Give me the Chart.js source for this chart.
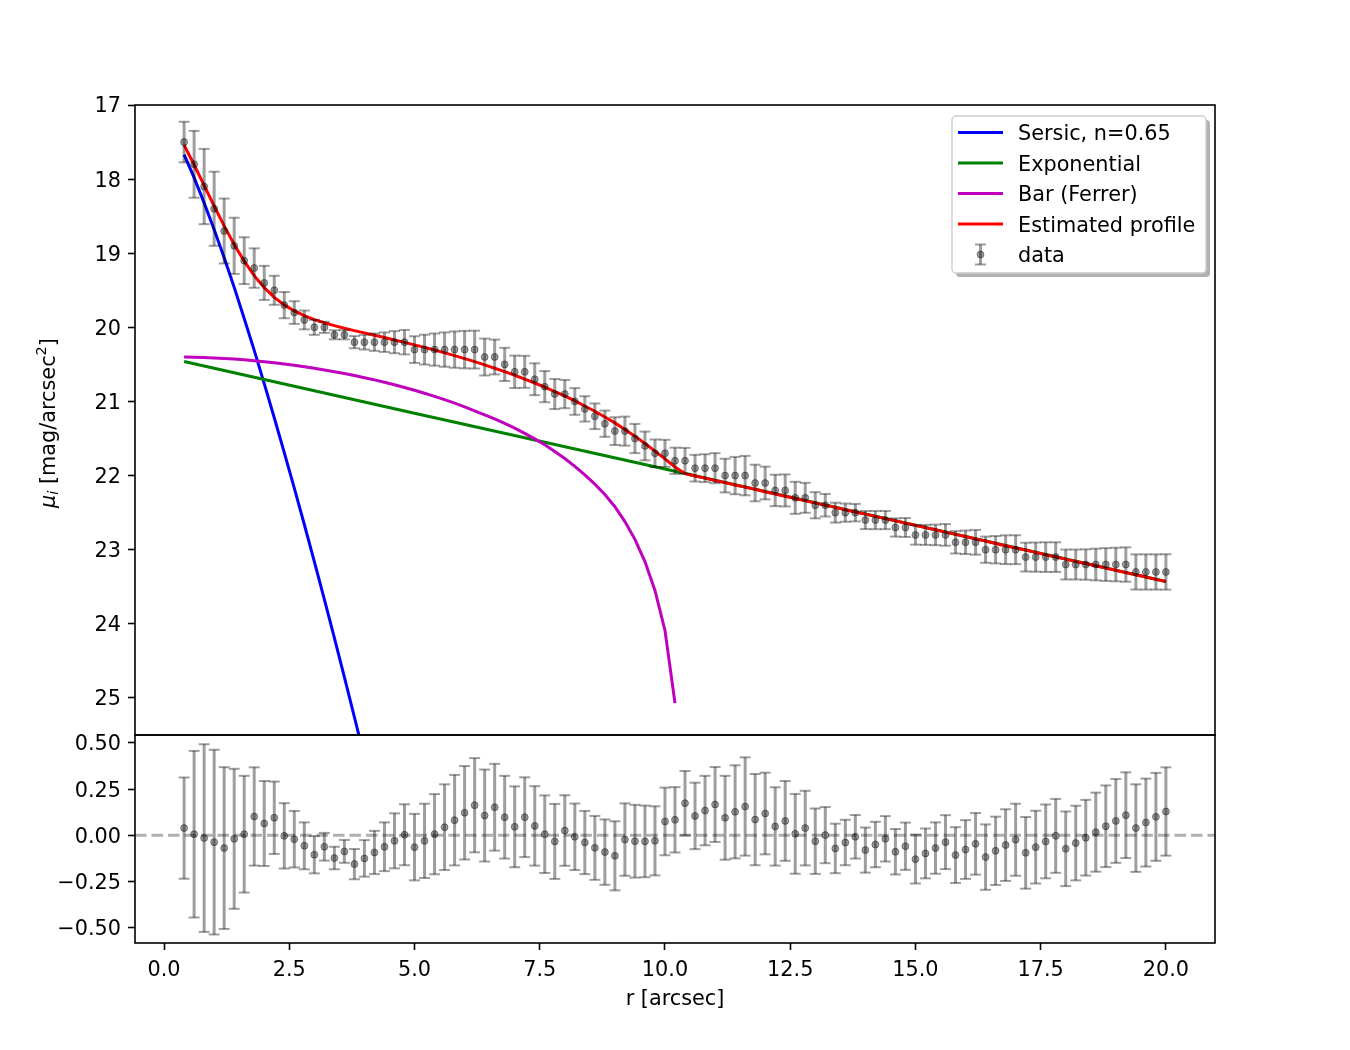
<!DOCTYPE html>
<html>
<head>
<meta charset="utf-8">
<script src="https://cdn.jsdelivr.net/npm/chart.js@4.4.1/dist/chart.umd.min.js"></script>
<style>
html,body{margin:0;padding:0;background:#fff;}
#wrap{position:relative;width:1350px;height:1050px;overflow:hidden;background:#fff;}
canvas{position:absolute;left:0;}
#topChart{top:0;}
#botChart{top:730px;}
</style>
</head>
<body>
<div id="wrap">
<canvas id="topChart" width="1350" height="740"></canvas>
<canvas id="botChart" width="1350" height="320"></canvas>
</div>
<script>
// ---------------- data ----------------
const radius = [
  0.4,0.6,0.8,1.0,1.2,1.4,1.6,1.8,2.0,2.2,
  2.4,2.6,2.8,3.0,3.2,3.4,3.6,3.8,4.0,4.2,
  4.4,4.6,4.8,5.0,5.2,5.4,5.6,5.8,6.0,6.2,
  6.4,6.6,6.8,7.0,7.2,7.4,7.6,7.8,8.0,8.2,
  8.4,8.6,8.8,9.0,9.2,9.4,9.6,9.8,10.0,10.2,
  10.4,10.6,10.8,11.0,11.2,11.4,11.6,11.8,12.0,12.2,
  12.4,12.6,12.8,13.0,13.2,13.4,13.6,13.8,14.0,14.2,
  14.4,14.6,14.8,15.0,15.2,15.4,15.6,15.8,16.0,16.2,
  16.4,16.6,16.8,17.0,17.2,17.4,17.6,17.8,18.0,18.2,
  18.4,18.6,18.8,19.0,19.2,19.4,19.6,19.8,20.0
];
const surfaceBrightness = [
  17.5,17.8,18.1,18.4,18.7,18.9,19.1,19.2,19.4,19.5,
  19.7,19.8,19.9,20.0,20.0,20.1,20.1,20.2,20.2,20.2,
  20.2,20.2,20.2,20.3,20.3,20.3,20.3,20.3,20.3,20.3,
  20.4,20.4,20.5,20.6,20.6,20.7,20.8,20.9,20.9,21.0,
  21.1,21.2,21.3,21.4,21.4,21.5,21.6,21.7,21.7,21.8,
  21.8,21.9,21.9,21.9,22.0,22.0,22.0,22.1,22.1,22.2,
  22.2,22.3,22.3,22.4,22.4,22.5,22.5,22.5,22.6,22.6,
  22.6,22.7,22.7,22.8,22.8,22.8,22.8,22.9,22.9,22.9,
  23.0,23.0,23.0,23.0,23.1,23.1,23.1,23.1,23.2,23.2,
  23.2,23.2,23.2,23.2,23.2,23.3,23.3,23.3,23.3
];
const errors = [
  0.274,0.451,0.508,0.500,0.438,0.379,0.316,0.266,0.230,0.196,
  0.177,0.153,0.127,0.101,0.075,0.061,0.062,0.082,0.099,0.117,
  0.132,0.149,0.165,0.180,0.201,0.217,0.232,0.245,0.253,0.255,
  0.249,0.235,0.224,0.219,0.216,0.215,0.210,0.203,0.191,0.180,
  0.171,0.173,0.177,0.187,0.196,0.197,0.194,0.187,0.183,0.177,
  0.174,0.180,0.188,0.203,0.227,0.252,0.266,0.247,0.221,0.212,
  0.216,0.216,0.202,0.177,0.152,0.134,0.123,0.118,0.122,0.123,
  0.123,0.123,0.128,0.132,0.135,0.139,0.146,0.151,0.159,0.167,
  0.177,0.185,0.194,0.195,0.194,0.197,0.200,0.200,0.202,0.202,
  0.205,0.214,0.221,0.227,0.232,0.237,0.238,0.238,0.239
];
const residuals = [
  0.039,0.006,-0.015,-0.037,-0.069,-0.019,0.006,0.102,0.064,0.095,
  -0.003,-0.021,-0.057,-0.105,-0.062,-0.123,-0.087,-0.156,-0.125,-0.093,
  -0.062,-0.030,0.003,-0.064,-0.030,0.006,0.044,0.082,0.122,0.163,
  0.107,0.152,0.098,0.046,0.098,0.051,0.006,-0.033,0.026,-0.008,
  -0.039,-0.068,-0.091,-0.111,-0.023,-0.032,-0.033,-0.030,0.075,0.084,
  0.174,0.105,0.134,0.167,0.095,0.127,0.156,0.085,0.118,0.048,
  0.078,0.008,0.039,-0.032,0.001,-0.071,-0.039,-0.008,-0.080,-0.050,
  -0.019,-0.089,-0.059,-0.129,-0.098,-0.069,-0.037,-0.107,-0.077,-0.046,
  -0.118,-0.084,-0.053,-0.024,-0.095,-0.064,-0.033,-0.003,-0.073,-0.042,
  -0.013,0.017,0.049,0.078,0.109,0.039,0.069,0.100,0.129
];
const estimatedProfile = [
  17.539,17.806,18.085,18.363,18.631,18.881,19.106,19.302,19.464,19.595,
  19.697,19.779,19.843,19.895,19.938,19.977,20.013,20.044,20.075,20.107,
  20.138,20.170,20.203,20.236,20.270,20.306,20.344,20.382,20.422,20.463,
  20.507,20.552,20.598,20.646,20.698,20.751,20.806,20.867,20.926,20.992,
  21.061,21.132,21.209,21.289,21.377,21.468,21.567,21.670,21.775,21.884,
  21.974,22.005,22.034,22.067,22.095,22.127,22.156,22.185,22.218,22.248,
  22.278,22.308,22.339,22.368,22.401,22.429,22.461,22.492,22.520,22.550,
  22.581,22.611,22.641,22.671,22.702,22.731,22.763,22.793,22.823,22.854,
  22.882,22.916,22.947,22.976,23.005,23.036,23.067,23.097,23.127,23.158,
  23.187,23.217,23.249,23.278,23.309,23.339,23.369,23.400,23.429
];
const sersicRadius = [0.4,0.6,0.8,1.0,1.2,1.4,1.6,1.8,2.0,2.2,2.4,2.6,2.8,3.0,3.2,3.4,3.6,3.8,4.0];
const sersicMu = [17.67,17.98,18.32,18.68,19.06,19.46,19.88,20.31,20.76,21.22,21.69,22.17,22.66,23.16,23.67,24.19,24.72,25.26,25.80];
const expRadius = [0.4,5.0,10.0,15.0,20.0];
const expMu = [20.46,21.16,21.91,22.67,23.43];
const barRadius = [
  0.4,0.6,0.8,1.0,1.2,1.4,1.6,1.8,2.0,2.2,
  2.4,2.6,2.8,3.0,3.2,3.4,3.6,3.8,4.0,4.2,
  4.4,4.6,4.8,5.0,5.2,5.4,5.6,5.8,6.0,6.2,
  6.4,6.6,6.8,7.0,7.2,7.4,7.6,7.8,8.0,8.2,
  8.4,8.6,8.8,9.0,9.2,9.4,9.6,9.8,10.0,10.2
];
const barMu = [
  20.400,20.402,20.406,20.412,20.419,20.428,20.438,20.450,20.463,20.478,
  20.494,20.512,20.531,20.552,20.574,20.598,20.623,20.650,20.679,20.709,
  20.741,20.775,20.811,20.849,20.889,20.931,20.976,21.023,21.073,21.126,
  21.180,21.235,21.295,21.360,21.430,21.505,21.585,21.675,21.770,21.875,
  21.990,22.115,22.255,22.420,22.620,22.860,23.160,23.550,24.090,25.070
];
const muTicks = [17,18,19,20,21,22,23,24,25];
const muTickLabels = ['17','18','19','20','21','22','23','24','25'];
const resTicks = [-0.5,-0.25,0,0.25,0.5];
const resTickLabels = ['\u22120.50','\u22120.25','0.00','0.25','0.50'];
const rTicks = [0,2.5,5,7.5,10,12.5,15,17.5,20];
const rTickLabels = ['0.0','2.5','5.0','7.5','10.0','12.5','15.0','17.5','20.0'];
const seriesLabels = ['Sersic, n=0.65','Exponential','Bar (Ferrer)','Estimated profile','data'];

// ---------------- configuration ----------------
const FONT = '"DejaVu Sans"';
const FS = 20.8;
Chart.defaults.font.family = FONT;
Chart.defaults.font.size = FS;
Chart.defaults.color = '#000';

const X_MIN = -0.58, X_MAX = 20.98;
const MU_MIN = 17, MU_MAX = 25.5;
const RES_MIN = -0.583, RES_MAX = 0.543;
const ERR_COLOR = 'rgba(0,0,0,0.38)';
const COLORS = {sersic:'#0000ff', exp:'#008000', bar:'#bf00bf', model:'#ff0000'};

const pts = (xs, ys) => xs.map((x, i) => ({x: x, y: ys[i]}));

const errorBarPlugin = {
  id: 'errorBars',
  beforeDatasetDraw(chart, args) {
    const ds = chart.data.datasets[args.index];
    if (!ds.errorBars) return;
    const xs = chart.scales.x, ys = chart.scales.y, ctx = chart.ctx, a = chart.chartArea;
    ctx.save();
    ctx.beginPath(); ctx.rect(a.left, a.top, a.right - a.left, a.bottom - a.top); ctx.clip();
    ctx.strokeStyle = ds.errorBarColor;
    ds.data.forEach((p, i) => {
      const e = ds.errorBars[i];
      const px = xs.getPixelForValue(p.x);
      const y1 = ys.getPixelForValue(p.y - e), y2 = ys.getPixelForValue(p.y + e);
      ctx.lineWidth = 3;
      ctx.beginPath(); ctx.moveTo(px, y1); ctx.lineTo(px, y2); ctx.stroke();
      ctx.lineWidth = 2;
      ctx.beginPath(); ctx.moveTo(px - 5.5, y1); ctx.lineTo(px + 5.5, y1); ctx.stroke();
      ctx.beginPath(); ctx.moveTo(px - 5.5, y2); ctx.lineTo(px + 5.5, y2); ctx.stroke();
    });
    ctx.restore();
  }
};

function drawRich(ctx, parts, cx, cy, rot, base) {
  ctx.save();
  ctx.translate(cx, cy); ctx.rotate(rot);
  let total = 0;
  parts.forEach(p => { ctx.font = p.font; p.w = ctx.measureText(p.t).width; total += p.w; });
  let x = -total / 2;
  ctx.fillStyle = '#000'; ctx.textBaseline = 'alphabetic'; ctx.textAlign = 'left';
  parts.forEach(p => { ctx.font = p.font; ctx.fillText(p.t, x, base + (p.dy || 0)); x += p.w; });
  ctx.restore();
}

function roundRectPath(ctx, x, y, w, h, r) {
  ctx.beginPath();
  ctx.moveTo(x + r, y); ctx.lineTo(x + w - r, y); ctx.arcTo(x + w, y, x + w, y + r, r);
  ctx.lineTo(x + w, y + h - r); ctx.arcTo(x + w, y + h, x + w - r, y + h, r);
  ctx.lineTo(x + r, y + h); ctx.arcTo(x, y + h, x, y + h - r, r);
  ctx.lineTo(x, y + r); ctx.arcTo(x, y, x + r, y, r); ctx.closePath();
}

const decorPlugin = {
  id: 'decor',
  beforeDatasetsDraw(chart, args, opts) {
    if (!opts.zeroLine) return;
    const ctx = chart.ctx, a = chart.chartArea, y = chart.scales.y.getPixelForValue(0);
    ctx.save();
    ctx.strokeStyle = 'rgba(128,128,128,0.62)'; ctx.lineWidth = 3; ctx.setLineDash([11.5, 5]);
    ctx.beginPath(); ctx.moveTo(a.left, y); ctx.lineTo(a.right, y); ctx.stroke();
    ctx.restore();
  },
  afterDraw(chart, args, opts) {
    const ctx = chart.ctx, a = chart.chartArea;
    ctx.save();
    ctx.strokeStyle = '#000'; ctx.lineWidth = 1.6;
    ctx.strokeRect(a.left, a.top, a.right - a.left, a.bottom - a.top);
    ctx.restore();
    if (opts.yTitle) {
      const t = opts.yTitle;
      drawRich(ctx, t.parts, t.cx, t.cy, -Math.PI / 2, t.base);
    }
    if (opts.legend) {
      const L = opts.legend;
      ctx.save();
      ctx.fillStyle = 'rgba(0,0,0,0.3)';
      roundRectPath(ctx, L.x + 4, L.y + 4, L.w, L.h, 4); ctx.fill();
      ctx.fillStyle = '#fff';
      roundRectPath(ctx, L.x, L.y, L.w, L.h, 4); ctx.fill();
      ctx.strokeStyle = '#cccccc'; ctx.lineWidth = 1.3; ctx.stroke();
      L.items.forEach((it, k) => {
        const ry = L.rowY + k * L.rowStep;
        if (it.kind === 'line') {
          ctx.strokeStyle = it.color; ctx.lineWidth = 3; ctx.setLineDash([]);
          ctx.beginPath(); ctx.moveTo(L.hx0, ry); ctx.lineTo(L.hx1, ry); ctx.stroke();
        } else {
          const cx = (L.hx0 + L.hx1) / 2;
          ctx.strokeStyle = ERR_COLOR;
          ctx.lineWidth = 3;
          ctx.beginPath(); ctx.moveTo(cx, ry - 10); ctx.lineTo(cx, ry + 10); ctx.stroke();
          ctx.lineWidth = 2;
          ctx.beginPath(); ctx.moveTo(cx - 5.5, ry - 10); ctx.lineTo(cx + 5.5, ry - 10); ctx.stroke();
          ctx.beginPath(); ctx.moveTo(cx - 5.5, ry + 10); ctx.lineTo(cx + 5.5, ry + 10); ctx.stroke();
          ctx.fillStyle = ERR_COLOR; ctx.lineWidth = 1;
          ctx.beginPath(); ctx.arc(cx, ry, 3.5, 0, Math.PI * 2); ctx.fill(); ctx.stroke();
        }
        ctx.fillStyle = '#000'; ctx.font = FS + 'px ' + FONT;
        ctx.textAlign = 'left'; ctx.textBaseline = 'alphabetic';
        ctx.fillText(it.label, L.tx, ry + 7.7);
      });
      ctx.restore();
    }
  }
};

const fontN = FS + 'px ' + FONT;
const fontI = 'italic ' + FS + 'px ' + FONT;
const fontSI = 'italic ' + (FS * 0.7).toFixed(2) + 'px ' + FONT;
const fontS = (FS * 0.7).toFixed(2) + 'px ' + FONT;

function yAxis(min, max, reverse, ticks, labels) {
  return {
    type: 'linear', min: min, max: max, reverse: reverse,
    afterFit(s) { s.width = 135; s.paddingTop = 0; s.paddingBottom = 0; },
    afterBuildTicks(s) { s.ticks = ticks.map(v => ({value: v})); },
    ticks: { callback: (v, i) => labels[i], padding: 7, labelOffset: 2, autoSkip: false, color: '#000', font: {size: FS} },
    grid: { drawOnChartArea: false, drawTicks: true, tickLength: 7, tickColor: '#000', tickWidth: 1.6 },
    border: { display: false }
  };
}

const lineDs = (label, xs, ys, color, order) => ({
  label: label, data: pts(xs, ys), showLine: true, borderColor: color, backgroundColor: color,
  borderWidth: 3, pointRadius: 0, pointHoverRadius: 0, tension: 0, fill: false, order: order
});

// ---------------- top panel ----------------
new Chart(document.getElementById('topChart'), {
  type: 'scatter',
  data: {
    datasets: [
      { label: seriesLabels[4], data: pts(radius, surfaceBrightness), errorBars: errors, errorBarColor: ERR_COLOR,
        showLine: false, pointRadius: 3.5, pointBorderWidth: 1, pointBackgroundColor: ERR_COLOR, pointBorderColor: ERR_COLOR, order: 0 },
      lineDs(seriesLabels[3], radius, estimatedProfile, COLORS.model, 1),
      lineDs(seriesLabels[2], barRadius, barMu, COLORS.bar, 2),
      lineDs(seriesLabels[1], expRadius, expMu, COLORS.exp, 3),
      lineDs(seriesLabels[0], sersicRadius, sersicMu, COLORS.sersic, 4)
    ]
  },
  options: {
    responsive: false, animation: false, devicePixelRatio: 1, events: [],
    layout: { padding: { top: 105, right: 135, bottom: 5, left: 0 } },
    plugins: {
      legend: { display: false }, tooltip: { enabled: false },
      decor: {
        yTitle: { cx: 47, cy: 423, base: 7.5, parts: [
          {t: '\u03bc', font: fontI}, {t: 'i', font: fontSI, dy: 3.5},
          {t: ' [mag/arcsec', font: fontN}, {t: '2', font: fontS, dy: -8.5}, {t: ']', font: fontN}
        ]},
        legend: { x: 952, y: 116, w: 254, h: 157, rowY: 132.5, rowStep: 30.5, hx0: 958, hx1: 1003, tx: 1018,
          items: [
            {label: seriesLabels[0], kind: 'line', color: COLORS.sersic},
            {label: seriesLabels[1], kind: 'line', color: COLORS.exp},
            {label: seriesLabels[2], kind: 'line', color: COLORS.bar},
            {label: seriesLabels[3], kind: 'line', color: COLORS.model},
            {label: seriesLabels[4], kind: 'err'}
          ] }
      }
    },
    scales: {
      x: { type: 'linear', min: X_MIN, max: X_MAX, display: false },
      y: yAxis(MU_MIN, MU_MAX, true, muTicks, muTickLabels)
    }
  },
  plugins: [errorBarPlugin, decorPlugin]
});

// ---------------- residual panel ----------------
new Chart(document.getElementById('botChart'), {
  type: 'scatter',
  data: {
    datasets: [
      { label: seriesLabels[4], data: pts(radius, residuals), errorBars: errors, errorBarColor: ERR_COLOR,
        showLine: false, pointRadius: 3.5, pointBorderWidth: 1, pointBackgroundColor: ERR_COLOR, pointBorderColor: ERR_COLOR }
    ]
  },
  options: {
    responsive: false, animation: false, devicePixelRatio: 1, events: [],
    layout: { padding: { top: 5, right: 135, bottom: 0, left: 0 } },
    plugins: {
      legend: { display: false }, tooltip: { enabled: false },
      decor: {
        zeroLine: true,
        yTitle: { cx: 35, cy: 835, base: 7.5, parts: [
          {t: '\u0394', font: fontN}, {t: '\u03bc', font: fontI}, {t: 'i', font: fontSI, dy: 3.5}
        ]}
      }
    },
    scales: {
      x: {
        type: 'linear', min: X_MIN, max: X_MAX,
        afterFit(s) { s.height = 107; s.paddingLeft = 0; s.paddingRight = 0; },
        afterBuildTicks(s) { s.ticks = rTicks.map(v => ({value: v})); },
        ticks: { callback: (v, i) => rTickLabels[i], padding: 8, autoSkip: false, maxRotation: 0, color: '#000', font: {size: FS} },
        grid: { drawOnChartArea: false, drawTicks: true, tickLength: 7, tickColor: '#000', tickWidth: 1.6 },
        border: { display: false },
        title: { display: true, text: 'r [arcsec]', color: '#000', font: {size: FS}, padding: { top: 0, bottom: 37.5 } }
      },
      y: yAxis(RES_MIN, RES_MAX, false, resTicks, resTickLabels)
    }
  },
  plugins: [errorBarPlugin, decorPlugin]
});
</script>
</body>
</html>
